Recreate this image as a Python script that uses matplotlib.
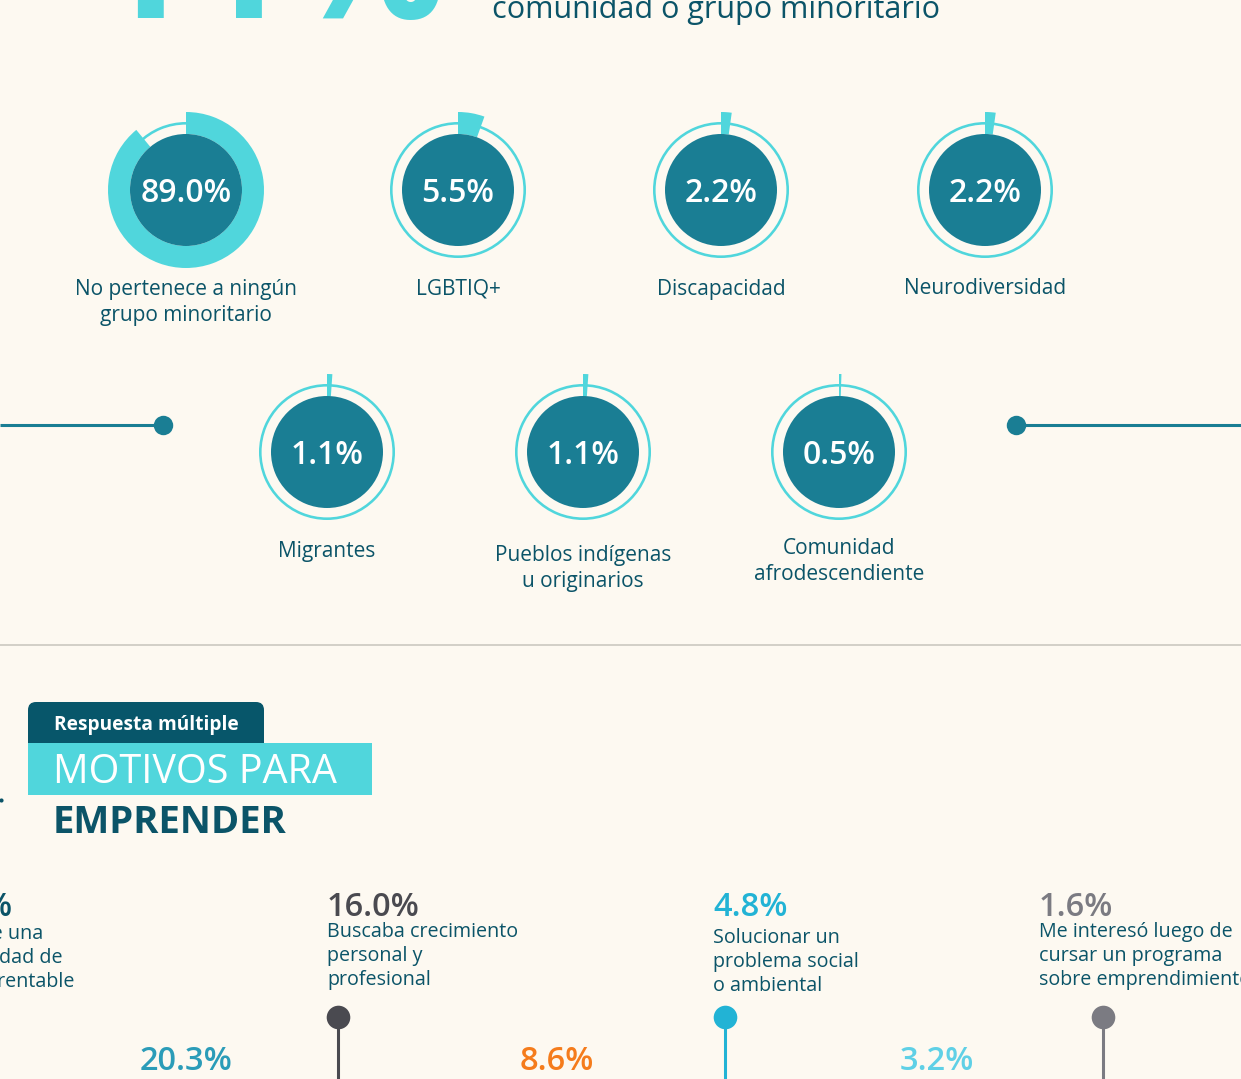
import matplotlib.pyplot as plt
from matplotlib.patches import FancyBboxPatch, Rectangle

plt.rcParams['font.family'] = ['Open Sans', 'DejaVu Sans']

# data
groups = ['No pertenece a ningún\ngrupo minoritario', 'LGBTIQ+', 'Discapacidad', 'Neurodiversidad',
          'Migrantes', 'Pueblos indígenas\nu originarios', 'Comunidad\nafrodescendiente']
group_pct = [89.0, 5.5, 2.2, 2.2, 1.1, 1.1, 0.5]

motives = ['Identifiqué una\noportunidad de\nnegocio rentable', 'Buscaba crecimiento\npersonal y\nprofesional',
           'Solucionar un\nproblema social\no ambiental', 'Me interesó luego de\ncursar un programa\nsobre emprendimiento']
motive_pct = [44.4, 16.0, 4.8, 1.6]
lower_pct = [20.3, 8.6, 3.2]

BG = '#fdf9f1'
CYAN = '#50d6dc'
TEAL = '#1a7e94'
DARK = '#0b5468'

fig = plt.figure(figsize=(12.41, 10.79), dpi=100, facecolor=BG)
ax = fig.add_axes([0, 0, 1, 1])
ax.set_facecolor(BG)

# header (cropped at top)
ax.text(92, 18, '11%', fontsize=125, fontweight='bold', color=CYAN,
        ha='left', va='baseline')
ax.text(492, 18, 'comunidad o grupo minoritario', fontsize=22, color=DARK, ha='left', va='baseline')

# donuts
centers = [(186, 190), (458, 190), (721, 190), (985, 190), (327, 452), (583, 452), (839, 452)]
label_y = [289, 289, 289, 288, 551, 555, 548]
for (cx, cy), pct, lab, ly in zip(centers, group_pct, groups, label_y):
    ax.pie([100], radius=68, center=(cx, cy), colors=[CYAN], frame=True,
           wedgeprops=dict(width=2.6, linewidth=0))
    ax.pie([pct, 100 - pct], radius=78, center=(cx, cy), startangle=270, counterclock=True,
           colors=[CYAN, 'none'], frame=True, wedgeprops=dict(width=22, linewidth=0))
    ax.pie([100], radius=56, center=(cx, cy), colors=[TEAL], frame=True, wedgeprops=dict(linewidth=0))
    ax.text(cx, cy + 3, f'{pct:.1f}%', fontsize=23, fontweight='semibold', color='white',
            ha='center', va='center')
    for j, line in enumerate(lab.split('\n')):
        ax.text(cx, ly + 26 * j, line, fontsize=15, color=DARK, ha='center', va='center')

# connector lines
ax.plot([0, 163], [425, 425], color=TEAL, lw=2.2, solid_capstyle='butt')
ax.plot([1016, 1241], [425, 425], color=TEAL, lw=2.2, solid_capstyle='butt')
ax.plot([163, 1016], [425, 425], 'o', color=TEAL, ms=14, mew=0)

# separator
ax.plot([0, 1241], [645, 645], color='#cfccc4', lw=1.3)

# section header
ax.add_patch(FancyBboxPatch((28, 702), 236, 50, boxstyle='round,pad=0,rounding_size=8',
                            fc='#07566a', ec='none'))
ax.add_patch(Rectangle((28, 743), 344, 52, fc=CYAN, ec='none'))
ax.text(54, 725, 'Respuesta múltiple', fontsize=13.8, fontweight='bold', color='white',
        ha='left', va='center')
ax.text(53, 773, 'MOTIVOS PARA', fontsize=28.5, fontweight='medium', color='white', ha='left', va='center')
ax.text(53, 823, 'EMPRENDER', fontsize=27.5, fontweight='bold', color=DARK, ha='left', va='center')
ax.plot([1], [800], 'o', color=DARK, ms=3, mew=0)

# timeline items (top row)
m_x = [None, 327, 713, 1039]
m_colors = [DARK, '#4a4a50', '#22b3d5', '#7b7b82']
m_text_y = [932, 932, 938, 932]
dot_x = [None, 338, 725, 1103]
for i, (pct, lab) in enumerate(zip(motive_pct, motives)):
    if m_x[i] is None:
        ax.text(13, 907, f'{pct:.1f}%', fontsize=23.5, fontweight='semibold', color=m_colors[i],
                ha='right', va='center')
        for j, (line, xe) in enumerate(zip(lab.split('\n'), [43, 63, 75])):
            ax.text(xe, 934 + 24 * j, line, fontsize=14.2, color=DARK, ha='right', va='center')
        continue
    ax.text(m_x[i], 907, f'{pct:.1f}%', fontsize=23.5, fontweight='semibold', color=m_colors[i],
            ha='left', va='center')
    for j, line in enumerate(lab.split('\n')):
        ax.text(m_x[i], m_text_y[i] + 24 * j, line, fontsize=14.2, color=DARK, ha='left', va='center')
    ax.plot([dot_x[i], dot_x[i]], [1017, 1085], color=m_colors[i], lw=2.2)
    ax.plot([dot_x[i]], [1017], 'o', color=m_colors[i], ms=17, mew=0)

# lower row percentages (cropped)
low_x = [140, 520, 900]
low_colors = ['#2b9cb8', '#f57c1c', '#5fd0e6']
for x, pct, c in zip(low_x, lower_pct, low_colors):
    ax.text(x, 1061, f'{pct:.1f}%', fontsize=23.5, fontweight='semibold', color=c, ha='left', va='center')

ax.set_xlim(0, 1241)
ax.set_ylim(1079, 0)
ax.set_aspect('auto')
ax.axis('off')

plt.savefig('out.png', dpi=100, facecolor=BG)
